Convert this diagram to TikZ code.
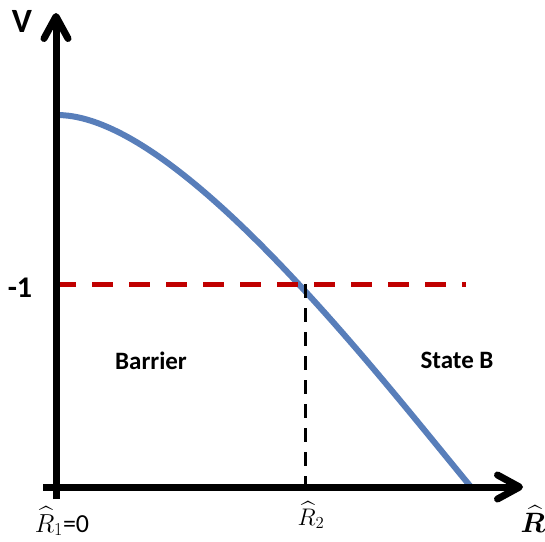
\RequirePackage{fix-cm}
\documentclass[tikz,border=0pt]{standalone}
\usepackage{fontspec}
\usepackage{amsmath}
\usepackage{bm}
\setmainfont{Carlito}
\usetikzlibrary{arrows.meta}
\definecolor{curveblue}{RGB}{88,126,186}
\definecolor{dashred}{RGB}{192,0,0}
\tikzset{
  axisline/.style={line width=7pt,
    -{Straight Barb[length=22pt,width=24pt,line width=7pt,round]}},
  lbl/.style={font=\bfseries\fontsize{25}{30}\selectfont, inner sep=0pt},
  mlbl/.style={inner sep=0pt, anchor=base},
}
\begin{document}
\begin{tikzpicture}[x=1pt,y=-1pt]
\useasboundingbox (0,0) rectangle (545,541);
\coordinate (ybot) at (56,499);
\coordinate (ytop) at (56,13);
\coordinate (xleft) at (43,487);
\coordinate (xright) at (523,487);
\coordinate (c0) at (57,115);
\coordinate (c3) at (471,487);
\coordinate (r0) at (55,284);
\coordinate (r1) at (466,284);
\coordinate (k0) at (305,284);
\coordinate (k1) at (305,487);
% curve
\draw[curveblue, line width=6pt] (c0) .. controls (177,115) and (372,367) .. (c3);
% dashed lines
\draw[dashred, line width=5pt, dash pattern=on 21pt off 16pt] (r0) -- (r1);
\draw[black, line width=3pt, dash pattern=on 14pt off 10pt] (k0) -- (k1);
% axes
\draw[axisline] (ybot) -- (ytop);
\draw[axisline] (xleft) -- (xright);
% labels
\node[lbl, font=\bfseries\fontsize{34}{40}\selectfont] (V) at (22,21) {V};
\node[lbl, font=\bfseries\fontsize{30}{36}\selectfont] (m1) at (20,288) {-1};
\node[lbl] (barrier) at (151,361) {Barrier};
\node[lbl] (stateB) at (457,360) {State B};
\node[mlbl, font=\fontsize{26}{30}\selectfont] (R1) at (62,532) {$\widehat{R}_1$=0};
\node[mlbl, font=\fontsize{24}{28}\selectfont] (R2) at (311,525) {$\widehat{R}_2$};
\node[mlbl, font=\fontsize{28}{32}\selectfont] (R) at (533,532) {$\bm{\widehat{R}}$};
\end{tikzpicture}
\end{document}
